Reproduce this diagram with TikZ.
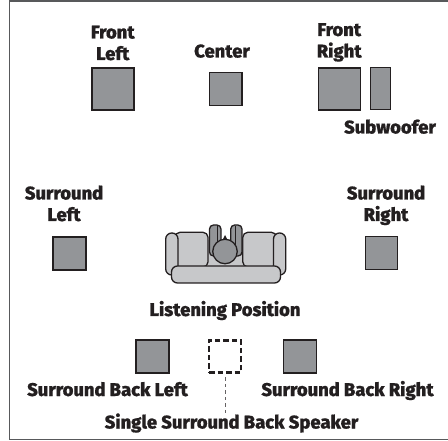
\documentclass[tikz,border=0pt]{standalone}
\usepackage{fontspec}
\setmainfont{Fira Sans}[BoldFont={Fira Sans ExtraBold},BoldFeatures={FakeBold=0.6}]
\definecolor{ink}{HTML}{231F20}
\definecolor{spk}{HTML}{939598}
\definecolor{sofa}{HTML}{C7C8CA}
\definecolor{frame}{HTML}{58595B}
\tikzset{
  lbl/.style={inner sep=0pt,anchor=base,align=center,text=ink,font=\fontsize{18.4}{21.5}\selectfont\bfseries},
  speaker/.style={draw=ink,line width=1.3pt,fill=spk,inner sep=0pt,outer sep=0pt,minimum width=#1,minimum height=#1},
  sub/.style={draw=ink,line width=1.3pt,fill=spk,inner sep=0pt,outer sep=0pt,minimum width=20.5pt,minimum height=41.5pt},
  dbox/.style={draw=ink,line width=2.2pt,dash pattern=on 5.5pt off 3pt,inner sep=0pt,outer sep=0pt,minimum width=32pt,minimum height=32pt},
  sofapart/.style={draw=ink,line width=1.3pt,fill=sofa,rounded corners=5pt},
  bodypart/.style={draw=ink,line width=1.3pt,fill=spk,rounded corners=4pt}
}
\begin{document}
\begin{tikzpicture}[x=1pt,y=-1pt]
\useasboundingbox (0,0) rectangle (448,441);
\draw[frame,line width=1.2pt] (448,1) -- (9.5,1) -- (9.5,439.5) -- (448,439.5);
% speakers
\node[speaker=42pt] (fl) at (113,89) {};
\node[speaker=32.5pt] (c) at (225.7,89) {};
\node[speaker=42pt] (fr) at (339.5,89) {};
\node[sub] (sw) at (380.5,88.5) {};
\node[speaker=33pt] (sl) at (69.5,253.5) {};
\node[speaker=32.5pt] (sr) at (381.5,253) {};
\node[speaker=33pt] (sbl) at (152.5,356.5) {};
\node[dbox] (sbc) at (225,356.5) {};
\node[speaker=33pt] (sbr) at (300.3,356.5) {};
% sofa
\fill[sofa] (208,240) rectangle (243,267);
\draw[sofapart] (175,232.3) rectangle (208,267);
\draw[sofapart] (242.8,232.3) rectangle (276.5,267);
\draw[sofapart,rounded corners=6pt] (165.7,233) rectangle (178,275);
\draw[sofapart,rounded corners=6pt] (273.5,233) rectangle (285.7,275);
\draw[sofapart,rounded corners=6pt] (171.5,266) rectangle (280.5,283);
% listener
\draw[bodypart] (209.5,225) rectangle (221,256);
\draw[bodypart] (230.7,225) rectangle (242,256);
\draw[draw=ink,line width=0.8pt] (217,226) -- (217,254) (235,226) -- (235,254);
\fill[ink] (225,235) -- (222.5,240) -- (227.5,240) -- cycle;
\node[circle,draw=ink,line width=1.3pt,fill=spk,minimum size=24.5pt,inner sep=0pt] (head) at (225,251.5) {};
% labels
\node[lbl] (tfl) at (112.7,60) {Front\\Left};
\node[lbl] (tc) at (222,57.5) {Center};
\node[lbl] (tfr) at (339.2,57.5) {Front\\Right};
\node[lbl] (tsw) at (390,133.5) {Subwoofer};
\node[lbl] (tsl) at (64,221) {Surround\\Left};
\node[lbl] (tsr) at (386,221) {Surround\\Right};
\node[lbl] (tlp) at (225,316) {Listening Position};
\node[lbl] (tsbl) at (107.5,396) {Surround Back Left};
\node[lbl] (tsbr) at (347.5,396) {Surround Back Right};
\node[lbl] (tsingle) at (231.5,428.5) {Single Surround Back Speaker};
\draw[ink!70,line width=0.9pt,dash pattern=on 3.5pt off 3pt,shorten <=5pt] (sbc.south) -- (sbc.south |- tsingle.north);
\end{tikzpicture}
\end{document}
